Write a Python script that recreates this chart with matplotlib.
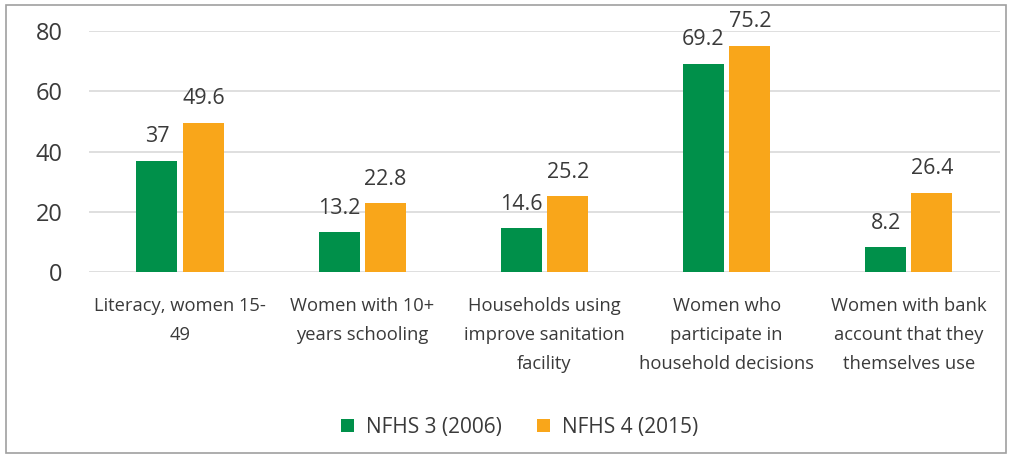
import numpy as np
import matplotlib
matplotlib.use("Agg")
import matplotlib.pyplot as plt
from matplotlib.patches import Rectangle

categories = [
    "Literacy, women 15-\n49",
    "Women with 10+\nyears schooling",
    "Households using\nimprove sanitation\nfacility",
    "Women who\nparticipate in\nhousehold decisions",
    "Women with bank\naccount that they\nthemselves use",
]
nfhs3 = [37, 13.2, 14.6, 69.2, 8.2]
nfhs4 = [49.6, 22.8, 25.2, 75.2, 26.4]
series_names = ["NFHS 3 (2006)", "NFHS 4 (2015)"]

green = "#00904A"
orange = "#F9A61A"
text_col = "#3a3a3a"

plt.rcParams["font.family"] = ["Open Sans", "DejaVu Sans"]

fig = plt.figure(figsize=(10.13, 4.58), dpi=100)
ax = fig.add_axes([0.088, 0.406, 0.899, 0.526])

x = np.arange(len(categories))
w = 0.225
gap = 0.03
b1 = ax.bar(x - w / 2 - gap / 2, nfhs3, w, color=green, label=series_names[0])
b2 = ax.bar(x + w / 2 + gap / 2, nfhs4, w, color=orange, label=series_names[1])

# value labels above each bar
for bars, vals in ((b1, nfhs3), (b2, nfhs4)):
    for b, v in zip(bars, vals):
        ax.text(b.get_x() + b.get_width() / 2, v + 4.5, f"{v:g}",
                ha="center", va="bottom", fontsize=15.5, color=text_col)

ax.set_ylim(0, 80)
ax.set_xlim(-0.5, len(categories) - 0.5)
ax.set_yticks([0, 20, 40, 60, 80])
ax.yaxis.grid(True, color="#d9d9d9", linewidth=1.2)
ax.set_axisbelow(True)
for s in ax.spines.values():
    s.set_visible(False)
ax.tick_params(axis="y", length=0, labelsize=17, labelcolor=text_col, pad=19)
ax.tick_params(axis="x", length=0, labelsize=13.2, labelcolor=text_col, pad=18)
ax.set_xticks(x)
ax.set_xticklabels(categories, linespacing=1.8)

ax.legend(loc="center", bbox_to_anchor=(0.473, -0.645), ncol=2, frameon=False,
          fontsize=15, handlelength=0.6, handleheight=0.6, columnspacing=1.7,
          handletextpad=0.6, labelcolor=text_col)

fig.patches.append(Rectangle((6 / 1013, 5 / 458), 1000 / 1013, 448 / 458,
                             transform=fig.transFigure, fill=False,
                             edgecolor="#a0a0a0", linewidth=1.2))

fig.savefig("out.png", dpi=100)
